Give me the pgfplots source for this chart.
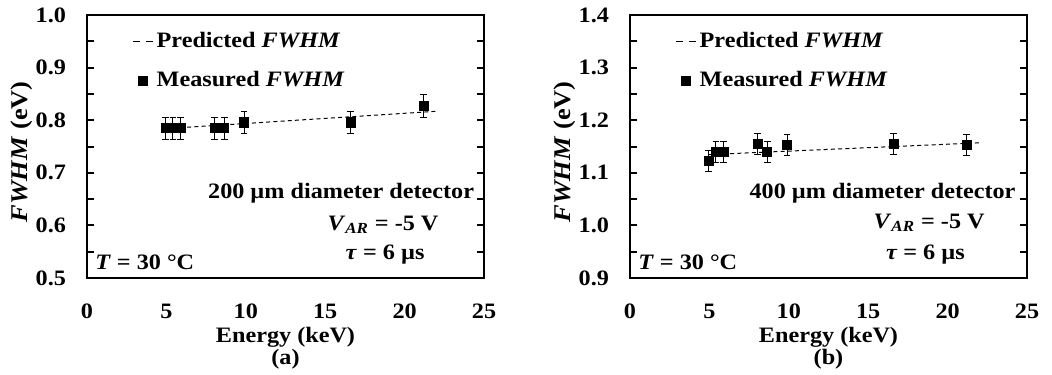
\documentclass[border=0pt]{standalone}
\usepackage{fontspec}
\setmainfont{Liberation Serif}[FakeStretch=1.1]
\usepackage{pgfplots}
\pgfplotsset{compat=1.18}

\newcommand{\fw}{\textit{FWHM}}
\newcommand{\lbl}{\bfseries\fontsize{11}{13}\selectfont}
\pgfplotsset{
  fwhmpanel/.style={
    scale only axis, width=198.5pt, height=131.5pt,
    xmin=0, xmax=25, xtick={0,5,...,25},
    clip=false,
    axis line style={line width=1pt},
    tick align=inside,
    major tick length=3.4pt, minor tick length=3.4pt,
    ytick style={line width=1pt, black},
    xtick style={draw=none},
    minor y tick num=1,
    /pgf/number format/assume math mode=true,
    yticklabel style={font=\lbl, xshift=-7pt,
      /pgf/number format/.cd, fixed, fixed zerofill, precision=1},
    xticklabel style={font=\lbl, yshift=-9.5pt},
    xlabel style={font=\bfseries\fontsize{11}{9.8}\selectfont, align=center,
      at={(axis description cs:0.5,-0.266)}, anchor=center},
    ylabel style={font=\bfseries\fontsize{12}{14}\selectfont,
      at={(axis description cs:-0.164,0.48)}, anchor=center},
    ylabel={\fw{} (eV)},
    legend style={draw=none, fill=none, inner sep=0pt, row sep=9.5pt,
      column sep=1.2pt, nodes={inner sep=0.5pt},
      font=\bfseries\fontsize{11}{13}\selectfont,
      at={(axis description cs:0.113,0.94)}, anchor=north west},
    legend cell align=left,
  },
  predicted/.style={black, line width=0.5pt, dash pattern=on 2pt off 1.6pt,
    legend image code/.code={\draw[##1, dash pattern=on 3.5pt off 3pt]
      (0pt,0pt) -- (10pt,0pt);}},
  measured/.style={black, only marks, mark=square*, mark size=2.3pt,
    error bars/y dir=both, error bars/y explicit,
    error bars/error bar style={line width=0.5pt, black},
    error bars/error mark options={rotate=90, mark size=1.7pt, line width=0.5pt},
    legend image code/.code={\draw[mark repeat=2,mark phase=2,##1]
      plot coordinates {(0pt,0pt) (5pt,0pt) (10pt,0pt)};}},
}

\begin{document}
\begin{tikzpicture}
\useasboundingbox (-43.5pt,-48pt) rectangle (482.5pt,139pt);

% (a) 200 um diameter detector
\begin{axis}[fwhmpanel, at={(0pt,0pt)}, anchor=south west,
  ymin=0.5, ymax=1.0, ytick={0.5,0.6,...,1.01},
  xlabel={Energy (keV)\\(a)}]
\addplot[predicted] coordinates {(4.95,0.784) (22.0,0.817)};
\addlegendentry{Predicted \fw}
\addplot[measured] coordinates {
  (4.95,0.785) +- (0,0.021)
  (5.41,0.785) +- (0,0.021)
  (5.90,0.785) +- (0,0.021)
  (8.05,0.785) +- (0,0.021)
  (8.64,0.785) +- (0,0.021)
  (9.89,0.796) +- (0,0.021)
  (16.6,0.796) +- (0,0.021)
  (21.2,0.827) +- (0,0.021)
};
\addlegendentry{Measured \fw}
\node[anchor=east, font=\lbl, inner sep=0pt]
  at (axis cs:24.4,0.662) {200 µm diameter detector};
\node[font=\lbl, inner sep=0pt]
  at (axis cs:18.64,0.601) {\textit{V}\textsubscript{\textit{AR}} = -5 V};
\node[font=\lbl, inner sep=0pt]
  at (axis cs:18.77,0.544) {\textit{τ} = 6 µs};
\node[anchor=west, font=\lbl, inner sep=0pt]
  at (axis cs:0.5,0.530) {\textit{T} = 30 °C};
\end{axis}

% (b) 400 um diameter detector
\begin{axis}[fwhmpanel, at={(271.5pt,0pt)}, anchor=south west,
  ymin=0.9, ymax=1.4, ytick={0.9,1.0,...,1.41},
  xlabel={Energy (keV)\\(b)}]
\addplot[predicted] coordinates {(4.95,1.1346) (22.0,1.157)};
\addlegendentry{Predicted \fw}
\addplot[measured] coordinates {
  (4.95,1.123) +- (0,0.02)
  (5.41,1.140) +- (0,0.02)
  (5.90,1.140) +- (0,0.02)
  (8.05,1.155) +- (0,0.02)
  (8.64,1.140) +- (0,0.02)
  (9.89,1.153) +- (0,0.02)
  (16.6,1.155) +- (0,0.02)
  (21.2,1.153) +- (0,0.02)
};
\addlegendentry{Measured \fw}
\node[anchor=east, font=\lbl, inner sep=0pt]
  at (axis cs:24.3,1.062) {400 µm diameter detector};
\node[font=\lbl, inner sep=0pt]
  at (axis cs:18.84,1.0046) {\textit{V}\textsubscript{\textit{AR}} = -5 V};
\node[font=\lbl, inner sep=0pt]
  at (axis cs:18.6,0.944) {\textit{τ} = 6 µs};
\node[anchor=west, font=\lbl, inner sep=0pt]
  at (axis cs:0.5,0.930) {\textit{T} = 30 °C};
\end{axis}
\end{tikzpicture}
\end{document}
